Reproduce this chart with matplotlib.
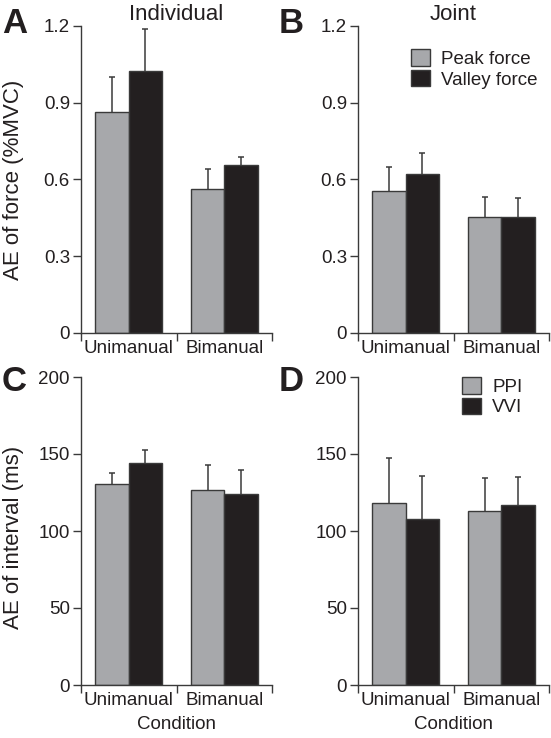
import matplotlib
matplotlib.use("Agg")
import matplotlib.pyplot as plt
from matplotlib.patches import Patch
import numpy as np

plt.rcParams['font.family'] = ['Liberation Sans', 'DejaVu Sans']

conditions = ["Unimanual", "Bimanual"]

# Panel A: Individual force
A_peak = [0.862, 0.562]
A_peak_err = [0.138, 0.078]
A_valley = [1.026, 0.655]
A_valley_err = [0.161, 0.032]

# Panel B: Joint force
B_peak = [0.556, 0.453]
B_peak_err = [0.092, 0.077]
B_valley = [0.621, 0.454]
B_valley_err = [0.081, 0.074]

# Panel C: Individual interval
C_ppi = [130.4, 126.3]
C_ppi_err = [7.2, 16.7]
C_vvi = [144.3, 124.2]
C_vvi_err = [8.5, 15.6]

# Panel D: Joint interval
D_ppi = [118.1, 113.1]
D_ppi_err = [29.5, 21.5]
D_vvi = [108.1, 117.2]
D_vvi_err = [27.3, 17.8]

force_ticks = [0, 0.3, 0.6, 0.9, 1.2]
force_ticklabels = ["0", "0.3", "0.6", "0.9", "1.2"]
interval_ticks = [0, 50, 100, 150, 200]
interval_ticklabels = ["0", "50", "100", "150", "200"]

GRAY = "#a7a8ab"
BLACK = "#231f20"
EDGE = "#3a3a3a"
TXT = "#231f20"
FS = 13.5
FSL = 16

fig = plt.figure(figsize=(5.51, 7.38), dpi=100)
W, H = 551, 738

def mkax(x0, x1, ytop, ybot):
    return fig.add_axes([x0 / W, 1 - ybot / H, (x1 - x0) / W, (ybot - ytop) / H])

axA = mkax(81, 272, 26, 333)
axB = mkax(358, 549, 26, 333)
axC = mkax(81, 272, 377, 685)
axD = mkax(358, 549, 377, 685)

def draw(ax, v1, e1, v2, e2, ymax, ticks, ticklabels):
    x = np.arange(len(conditions))
    w = 0.35
    ax.bar(x - w / 2, v1, w, color=GRAY, edgecolor=EDGE, linewidth=1.0, zorder=2)
    ax.bar(x + w / 2, v2, w, color=BLACK, edgecolor=EDGE, linewidth=1.0, zorder=2)
    ax.errorbar(x - w / 2, v1, yerr=e1, fmt='none',
                ecolor=EDGE, elinewidth=1.1, capsize=2.5, capthick=1.1, zorder=1)
    ax.errorbar(x + w / 2, v2, yerr=e2, fmt='none',
                ecolor=EDGE, elinewidth=1.1, capsize=2.5, capthick=1.1, zorder=1)
    ax.set_xlim(-0.5, 1.5)
    ax.set_ylim(0, ymax)
    ax.set_yticks(ticks)
    ax.set_yticklabels(ticklabels)
    ax.set_xticks([-0.5, 0.5, 1.5])
    ax.set_xticklabels(["", "", ""])
    ax.set_xticks(x, minor=True)
    ax.set_xticklabels(conditions, minor=True)
    ax.tick_params(axis='x', which='minor', length=0, pad=5, labelsize=FS, labelcolor=TXT)
    ax.tick_params(axis='x', which='major', length=6, width=1, color=EDGE)
    ax.tick_params(axis='y', length=6, width=1, color=EDGE, labelsize=FS, labelcolor=TXT, pad=2)
    for s in ['top', 'right']:
        ax.spines[s].set_visible(False)
    for s in ['left', 'bottom']:
        ax.spines[s].set_color(EDGE)
        ax.spines[s].set_linewidth(1.0)

draw(axA, A_peak, A_peak_err, A_valley, A_valley_err, 1.2, force_ticks, force_ticklabels)
draw(axB, B_peak, B_peak_err, B_valley, B_valley_err, 1.2, force_ticks, force_ticklabels)
draw(axC, C_ppi, C_ppi_err, C_vvi, C_vvi_err, 200, interval_ticks, interval_ticklabels)
draw(axD, D_ppi, D_ppi_err, D_vvi, D_vvi_err, 200, interval_ticks, interval_ticklabels)

axA.set_title("Individual", fontsize=FSL, color=TXT, pad=4)
axB.set_title("Joint", fontsize=FSL, color=TXT, pad=4)
fig.text(14 / W, 1 - 180 / H, "AE of force (%MVC)", fontsize=FSL, color=TXT,
         rotation=90, ha='center', va='center')
fig.text(14 / W, 1 - 537 / H, "AE of interval (ms)", fontsize=FSL, color=TXT,
         rotation=90, ha='center', va='center')
axC.set_xlabel("Condition", fontsize=FS, color=TXT, labelpad=5)
axD.set_xlabel("Condition", fontsize=FS, color=TXT, labelpad=5)

def leg(ax, labels, anchor):
    handles = [Patch(facecolor=GRAY, edgecolor=EDGE, linewidth=1.0),
               Patch(facecolor=BLACK, edgecolor=EDGE, linewidth=1.0)]
    lg = ax.legend(handles, labels, loc='upper left', bbox_to_anchor=anchor,
                   frameon=False, fontsize=FS, handlelength=1.0, handleheight=1.0,
                   handletextpad=0.6, labelspacing=0.1, borderpad=0, borderaxespad=0)
    for t in lg.get_texts():
        t.set_color(TXT)

leg(axB, ["Peak force", "Valley force"], (0.28, 0.925))
leg(axD, ["PPI", "VVI"], (0.545, 1.0))

for lab, (px, py) in zip("ABCD", [(2, 33), (279, 33), (2, 391), (279, 391)]):
    fig.text(px / W, 1 - py / H, lab, fontsize=25, fontweight='bold', color=TXT,
             ha='left', va='baseline')

fig.savefig("out.png", dpi=100)
